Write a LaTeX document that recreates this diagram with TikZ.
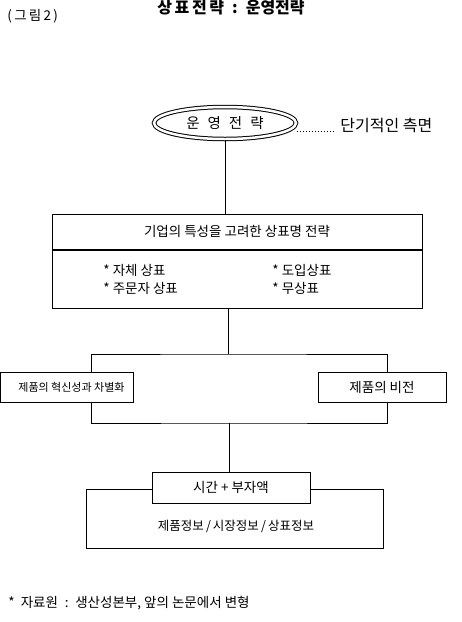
\documentclass[tikz,border=0pt]{standalone}
\usepackage{fontspec}
\setmainfont{Noto Sans CJK KR}
\usetikzlibrary{positioning, shapes.geometric}

\begin{document}
\begin{tikzpicture}[
    x=1pt, y=-1pt,
    line width=0.9pt,
    strategy box/.style={
        draw, rectangle, line width=1pt, inner sep=0pt,
        font=\fontsize{13.5}{15}\selectfont, align=center
    },
    op ellipse/.style={
        ellipse, draw, line width=1pt, double=white, double distance=2.5pt,
        minimum width=142pt, minimum height=32pt, inner sep=0pt,
        font=\fontsize{14.5}{16}\selectfont
    },
    item/.style={anchor=west, inner sep=0pt, font=\fontsize{13.5}{15}\selectfont},
    plain/.style={inner sep=0pt, font=\fontsize{13.5}{15}\selectfont}
]

% fixed frame of the page
\useasboundingbox (0,0) rectangle (462,622);

% ------------------------------------------------------------------------------
% 1. TITLE
% ------------------------------------------------------------------------------
\node[plain, anchor=west] (fig) at (7,16) {(\,그\,림\,2\,)};
\node[plain, font=\fontsize{16}{18}\selectfont\bfseries] (title) at (231,8)
    {상\,표\,전\,략\enspace{}:\enspace{}운영전략};

% ------------------------------------------------------------------------------
% 2. OPERATING STRATEGY (double ellipse)
% ------------------------------------------------------------------------------
\node[op ellipse] (op) at (225,123) {운\hspace{8pt}영\hspace{8pt}전\hspace{8pt}략};
\node[plain, anchor=west, font=\fontsize{16}{18}\selectfont] (short) at (340,125) {단기적인 측면};
\draw[dotted, line width=1pt] (op.east |- short.base) -- ([xshift=-6pt]short.base west);

% ------------------------------------------------------------------------------
% 3. BRAND NAME STRATEGY BOX
% ------------------------------------------------------------------------------
\node[strategy box, minimum width=370pt, minimum height=35pt] (head) at (237,231.5)
    {기업의 특성을 고려한 상표명 전략};
\node[strategy box, minimum width=370pt, minimum height=58pt, below=0pt of head] (body) {};

\node[item] (own)     at (103,270) {*\ 자체 상표};
\node[item] (oem)     at (103,288) {*\ 주문자 상표};
\node[item] (import)  at (272,270) {*\ 도입상표};
\node[item] (nobrand) at (272,288) {*\ 무상표};

\draw (op.south) -- (op.south |- head.north);

% ------------------------------------------------------------------------------
% 4. PRODUCT BRANCHES
% ------------------------------------------------------------------------------
\coordinate (split)  at (228,354);
\coordinate (lsplit) at (91,354);
\coordinate (rsplit) at (387,354);

\node[strategy box, minimum width=133pt, minimum height=30pt,
      font=\fontsize{11}{13}\selectfont] (innov) at (66.5,387) {\hspace{10pt}제품의 혁신성과 차별화};
\node[strategy box, minimum width=128pt, minimum height=30pt] (vision) at (382,387) {제품의 비전};

\draw (split |- body.south) -- (split);
\draw (lsplit |- innov.north) |- (split) -| (rsplit |- vision.north);

% ------------------------------------------------------------------------------
% 5. INFORMATION BOX
% ------------------------------------------------------------------------------
\coordinate (merge) at (229,423);

\node[strategy box, minimum width=297pt, minimum height=59pt] (info) at (234.5,518.5) {};
\node[plain, font=\fontsize{12.5}{14}\selectfont] (infolbl) at (236,526)
    {제품정보\,/\,시장정보\,/\,상표정보};
\node[strategy box, fill=white, minimum width=158pt, minimum height=31pt] (value) at (231,487.5)
    {시간 + 부자액};

\draw (lsplit |- innov.south) |- (merge) -| (rsplit |- vision.south);
\draw (merge) -- (merge |- value.north);

% ------------------------------------------------------------------------------
% 6. SOURCE
% ------------------------------------------------------------------------------
\node[plain, anchor=west, font=\fontsize{13.5}{15}\selectfont] (src) at (8,603)
    {*\ \ 자료원\enspace{}:\enspace{}생산성본부,\ 앞의 논문에서 변형};

\end{tikzpicture}
\end{document}
